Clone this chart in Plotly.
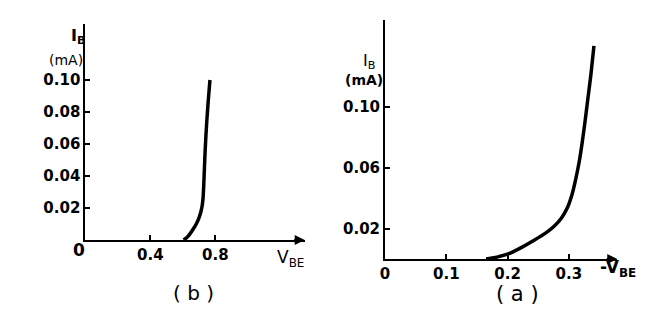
import plotly.graph_objects as go

# (b) silicon characteristic
vb = [0.605, 0.625, 0.645, 0.665, 0.685, 0.70, 0.712, 0.72, 0.725, 0.729, 0.733, 0.737, 0.742, 0.748, 0.755, 0.762, 0.767]
ib = [0.0, 0.0015, 0.004, 0.007, 0.0105, 0.014, 0.018, 0.022, 0.027, 0.035, 0.045, 0.055, 0.065, 0.075, 0.085, 0.094, 0.100]
# (a) germanium characteristic
va = [0.165, 0.18, 0.20, 0.22, 0.244, 0.262, 0.276, 0.288, 0.298, 0.305, 0.311, 0.317, 0.322, 0.327, 0.331, 0.336, 0.341]
ia = [0.0, 0.001, 0.0032, 0.007, 0.0125, 0.017, 0.0215, 0.027, 0.034, 0.042, 0.052, 0.064, 0.077, 0.092, 0.105, 0.121, 0.140]

b_xticks = [0.4, 0.8]
b_xtext = ["0.4", "0.8"]
b_yticks = [0.02, 0.04, 0.06, 0.08, 0.10]
b_ytext = ["0.02", "0.04", "0.06", "0.08", "0.10"]
a_xticks = [0, 0.1, 0.2, 0.3]
a_xtext = ["0", "0.1", "0.2", "0.3"]
a_yticks = [0.02, 0.06, 0.10]
a_ytext = ["0.02", "0.06", "0.10"]

W, H = 646, 327
FONT = dict(family="DejaVu Sans", size=15, color="black", weight="bold")

fig = go.Figure()
fig.add_trace(go.Scatter(x=vb, y=ib, mode="lines", line=dict(color="black", width=3.5, shape="spline", smoothing=0.6),
                         xaxis="x", yaxis="y", showlegend=False, hoverinfo="skip"))
fig.add_trace(go.Scatter(x=va, y=ia, mode="lines", line=dict(color="black", width=3.5, shape="spline", smoothing=0.6),
                         xaxis="x2", yaxis="y2", showlegend=False, hoverinfo="skip"))

def px(x):
    return x / W

def py(y):
    return (H - y) / H

axis_common = dict(showgrid=False, zeroline=False, showline=True, linecolor="black", linewidth=2,
                   ticks="inside", ticklen=5, tickwidth=1.5, tickcolor="black", tickfont=FONT, fixedrange=True)

fig.update_layout(
    width=W, height=H, margin=dict(l=0, r=0, t=0, b=0),
    paper_bgcolor="white", plot_bgcolor="white",
    xaxis=dict(domain=[px(81), px(302)], range=[0, 1.35], anchor="y",
               tickvals=b_xticks, ticktext=b_xtext, **axis_common),
    yaxis=dict(domain=[py(240), py(24)], range=[0, 0.135], anchor="x",
               tickvals=b_yticks, ticktext=b_ytext, **axis_common),
    xaxis2=dict(domain=[px(383), px(617)], range=[0, 0.379], anchor="y2",
                tickvals=a_xticks, ticktext=a_xtext, **axis_common),
    yaxis2=dict(domain=[py(259), py(20)], range=[0, 0.157], anchor="x2",
                tickvals=a_yticks, ticktext=a_ytext, **axis_common),
)

ann = []
def text(x, y, s, size=15, xanchor="center", weight="normal"):
    ann.append(dict(x=px(x), y=py(y), xref="paper", yref="paper", text=s, showarrow=False,
                    xanchor=xanchor, yanchor="middle",
                    font=dict(family="DejaVu Sans", size=size, color="black", weight=weight)))

text(75, 250, "0", 17, weight="bold")
text(83, 36, "I<sub>B</sub>", 16, "right", "bold")
text(81, 60, "(mA)", 14, "right")
text(288, 258, "V<sub>BE</sub>", 17)
text(190, 293, "( b )", 20)

text(375, 61, "I<sub>B</sub>", 16, "right")
text(383, 80, "(mA)", 14, "right", "bold")
text(618, 268, "-V<sub>BE</sub>", 17, weight="bold")
text(517, 294, "( a )", 21)

fig.update_layout(annotations=ann)

# small arrowheads at the x-axis ends
fig.add_annotation(x=1.35, y=0, xref="x", yref="y", ax=-12, ay=0, showarrow=True,
                   arrowhead=2, arrowsize=1, arrowwidth=2, arrowcolor="black", text="")
fig.add_annotation(x=0.379, y=0, xref="x2", yref="y2", ax=-12, ay=0, showarrow=True,
                   arrowhead=2, arrowsize=1, arrowwidth=2, arrowcolor="black", text="")

fig.write_html("out.html")
